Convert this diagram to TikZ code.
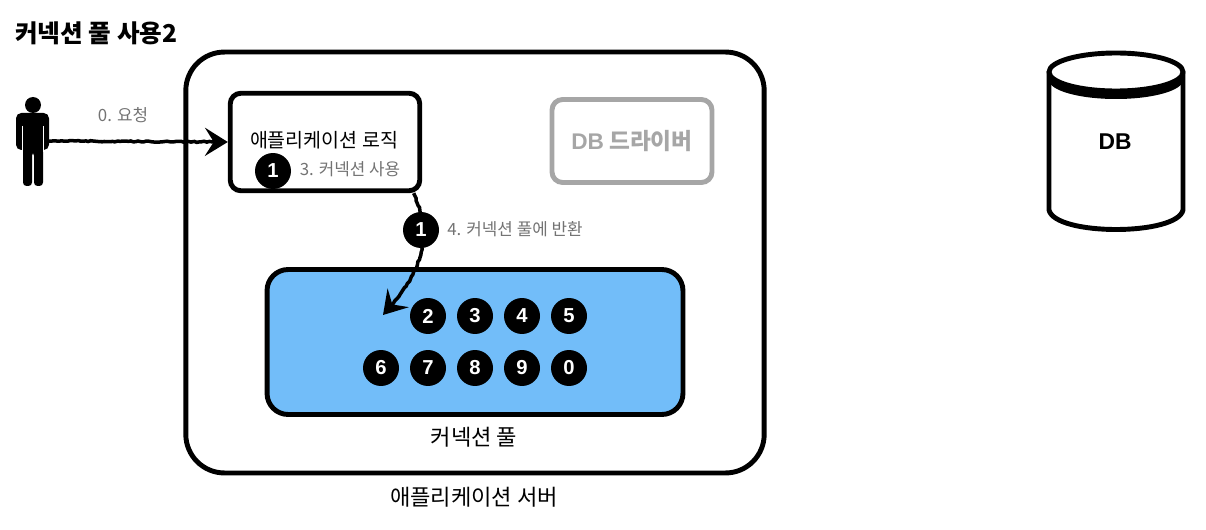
\documentclass[tikz,border=0pt]{standalone}
\usepackage{fontspec}
\setmainfont{Noto Sans CJK KR}
\newfontfamily\latinfont{Liberation Sans}
\usetikzlibrary{arrows.meta,decorations.pathmorphing}
\definecolor{poolblue}{HTML}{72BDF9}
\begin{document}
\begin{tikzpicture}[
    x=0.02cm, y=-0.02cm,
    every node/.style={font=\small},
    box/.style={
        draw=black,
        line width=2.8pt,
        rounded corners=6pt,
        anchor=center,
    },
    conn/.style={
        circle,
        fill=black,
        text=white,
        inner sep=0pt,
        minimum size=0.72cm,
        font=\latinfont\fontsize{11.5}{13}\selectfont\bfseries,
    },
    note/.style={text=black!55, inner sep=0pt, font=\fontsize{9.6}{11}\selectfont},
    caption/.style={inner sep=0pt, font=\fontsize{12.6}{15}\selectfont},
    flow/.style={
        -{Stealth[length=13pt,width=16pt,inset=5pt]},
        line width=2pt,
        decorate,
        decoration={random steps,segment length=1.5pt,amplitude=0.35pt,post length=9pt},
    },
]

\useasboundingbox (0,0) rectangle (1206,530);

% Row heights of the pool
\def\yP{316}
\def\yQ{368}

% --- Title ---
\node[anchor=west, inner sep=0pt, font=\fontsize{14}{16}\selectfont\bfseries] (title) at (15,33)
    {커넥션 풀 사용2};

% --- Boxes ---
\node[box, rounded corners=22pt, minimum width=11.57cm, minimum height=8.42cm] (server) at (475,262.5) {};
\node[box, minimum width=3.79cm, minimum height=1.95cm] (logic) at (325,142) {};
\node[box, draw=black!35, minimum width=3.2cm, minimum height=1.66cm] (driver) at (632,141)
    {};
\node[box, fill=poolblue, rounded corners=12pt, minimum width=8.32cm, minimum height=2.9cm] (pool) at (475,342) {};

% --- Person ---
\node[minimum width=0.52cm, minimum height=1.8cm, inner sep=0pt] (person) at (33,141) {};
\fill (33,105) circle (8);
\fill[rounded corners=3pt] (16,113) -- (49,113) -- (49,150) -- (16,150) -- cycle;
\fill[rounded corners=2pt] (23,140) -- (43,140) -- (43,186) -- (34,186) -- (34,152) -- (32,152) -- (32,186) -- (23,186) -- cycle;
\draw[white, line width=0.8pt] (22.5,126) -- (22.5,152);
\draw[white, line width=0.8pt] (43.5,126) -- (43.5,152);

% --- DB cylinder ---
\coordinate (dbleft) at (1049,73);
\coordinate (dbright) at (1183,73);
\fill (1116,80) ellipse (67 and 19);
\draw[line width=2.8pt] (dbleft) -- (1049,210) .. controls (1055,236) and (1177,236) .. (1183,210) -- (dbright);
\draw[line width=2.8pt, fill=white] (1116,72) ellipse (67 and 19);
\node[font=\latinfont\fontsize{13}{15}\selectfont\bfseries] (db) at (1115,142) {DB};

% --- Connectors ---
\coordinate (returnend) at (383,315);
\draw[flow] (person.east) -- (logic.west);
\draw[flow] (logic.-30) .. controls (432,235) and (425,270) .. (returnend);

% --- Labels ---
\node[note] (request) at (123,115) {0. 요청};
\node[caption, font=\fontsize{11.1}{13}\selectfont] (logiclabel) at (324,140) {애플리케이션 로직};
\node[note] (use) at (350,169) {3. 커넥션 사용};
\node[inner sep=0pt, text=black!35, font=\fontsize{12.9}{15}\selectfont\bfseries] (driverlabel) at (632,141) {{\latinfont\bfseries DB} 드라이버};
\node[note] (back) at (515,229) {4. 커넥션 풀에 반환};
\node[caption] (poollabel) at (474,437) {커넥션 풀};
\node[caption] (serverlabel) at (474,497) {애플리케이션 서버};

% --- Connections ---
\node[conn] (c1a) at (273,171) {1};
\node[conn] (c1b) at (421,230) {1};
\node[conn] (c2) at (428,\yP) {2};
\node[conn] (c3) at (475,\yP) {3};
\node[conn] (c4) at (522,\yP) {4};
\node[conn] (c5) at (569,\yP) {5};
\node[conn] (c6) at (381,\yQ) {6};
\node[conn] (c7) at (428,\yQ) {7};
\node[conn] (c8) at (475,\yQ) {8};
\node[conn] (c9) at (522,\yQ) {9};
\node[conn] (c0) at (569,\yQ) {0};

\end{tikzpicture}
\end{document}
